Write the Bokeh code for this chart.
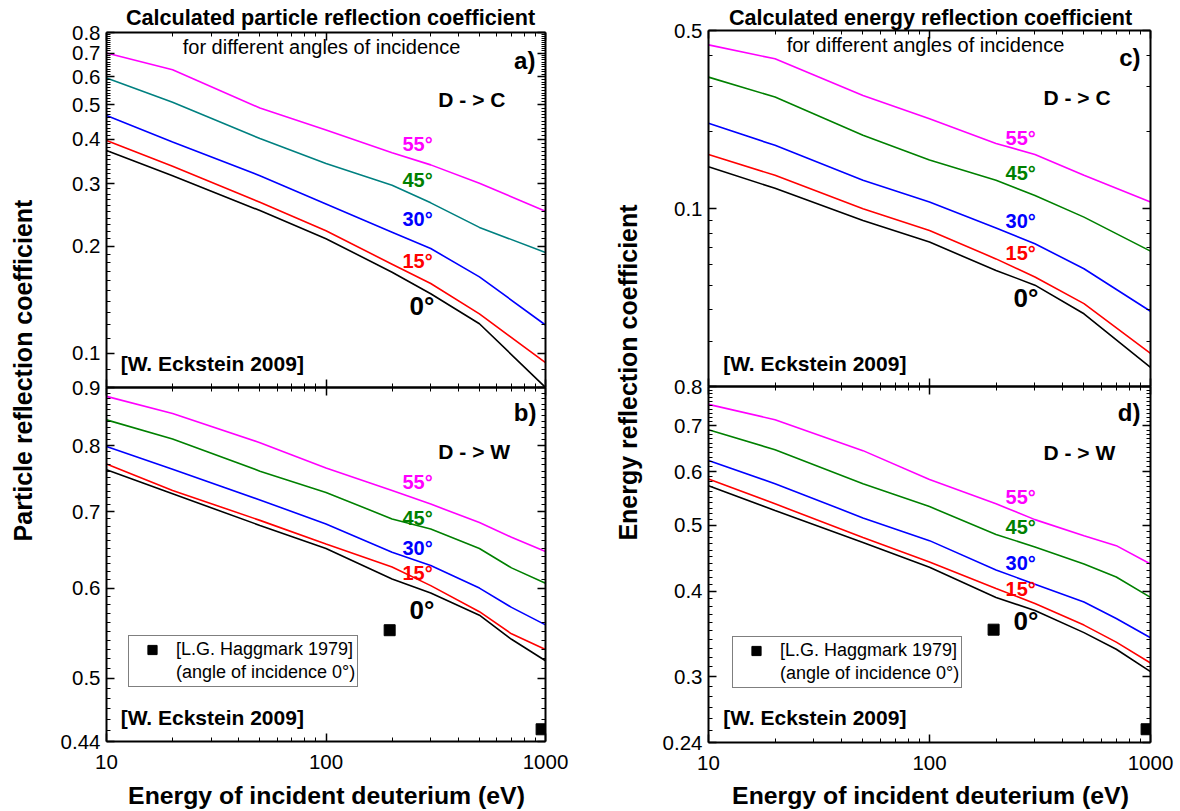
import math
from bokeh.plotting import figure
from bokeh.models import (Range1d, LogAxis, FixedTicker, CustomJSTickFormatter,
                          Label, Legend, LegendItem, GridBox)
from bokeh.embed import file_html
from bokeh.resources import INLINE

# ---------------- data ----------------
energy_c = [10, 20, 50, 100, 200, 300, 500, 1000]          # eV, D -> C
energy_w = [10, 20, 50, 100, 200, 300, 500, 700, 1000]     # eV, D -> W
angle_labels = ["0°", "15°", "30°", "45°", "55°"]

# a) particle reflection coefficient, D -> C
rn_c_0 = [0.372, 0.316, 0.252, 0.210, 0.169, 0.147, 0.121, 0.080]
rn_c_15 = [0.397, 0.336, 0.266, 0.221, 0.178, 0.157, 0.129, 0.094]
rn_c_30 = [0.467, 0.393, 0.316, 0.263, 0.219, 0.197, 0.164, 0.120]
rn_c_45 = [0.596, 0.509, 0.402, 0.342, 0.297, 0.265, 0.226, 0.192]
rn_c_55 = [0.700, 0.628, 0.490, 0.425, 0.367, 0.339, 0.301, 0.251]

# b) particle reflection coefficient, D -> W
rn_w_0 = [0.762, 0.726, 0.681, 0.650, 0.611, 0.594, 0.568, 0.541, 0.518]
rn_w_15 = [0.771, 0.731, 0.688, 0.656, 0.626, 0.603, 0.572, 0.547, 0.530]
rn_w_30 = [0.799, 0.763, 0.717, 0.683, 0.645, 0.628, 0.600, 0.577, 0.557]
rn_w_45 = [0.843, 0.811, 0.760, 0.728, 0.690, 0.676, 0.650, 0.625, 0.606]
rn_w_55 = [0.884, 0.854, 0.805, 0.765, 0.731, 0.711, 0.685, 0.665, 0.646]

# c) energy reflection coefficient, D -> C
re_c_0 = [0.146, 0.120, 0.0897, 0.0738, 0.0571, 0.0500, 0.0386, 0.0238]
re_c_15 = [0.163, 0.135, 0.0998, 0.0820, 0.0634, 0.0538, 0.0423, 0.0270]
re_c_30 = [0.216, 0.177, 0.129, 0.106, 0.0838, 0.0727, 0.0580, 0.0395]
re_c_45 = [0.328, 0.274, 0.194, 0.155, 0.129, 0.1125, 0.0925, 0.0680]
re_c_55 = [0.439, 0.387, 0.278, 0.225, 0.180, 0.163, 0.135, 0.106]

# d) energy reflection coefficient, D -> W
re_w_0 = [0.572, 0.526, 0.472, 0.434, 0.392, 0.375, 0.348, 0.329, 0.305]
re_w_15 = [0.585, 0.538, 0.480, 0.442, 0.404, 0.384, 0.357, 0.337, 0.314]
re_w_30 = [0.623, 0.576, 0.513, 0.475, 0.430, 0.410, 0.386, 0.365, 0.342]
re_w_45 = [0.691, 0.646, 0.576, 0.533, 0.485, 0.465, 0.439, 0.420, 0.392]
re_w_55 = [0.753, 0.715, 0.644, 0.584, 0.538, 0.510, 0.483, 0.467, 0.439]

# measurements [L.G. Haggmark 1979], angle of incidence 0°
energy_haggmark = [195, 960]
rn_haggmark = [0.551, 0.451]
re_haggmark = [0.3515, 0.251]

# tick values
x_major = [10, 100, 1000]
x_minor = [20, 30, 40, 50, 60, 70, 80, 90, 200, 300, 400, 500, 600, 700, 800, 900]
ya_major = [0.1, 0.2, 0.3, 0.4, 0.5, 0.6, 0.7, 0.8]
yb_major = [0.44, 0.5, 0.6, 0.7, 0.8, 0.9]
yc_major = [0.1, 0.5]
yd_major = [0.24, 0.3, 0.4, 0.5, 0.6, 0.7, 0.8]
ya_minor = [round(0.01 * k, 2) for k in range(8, 80) if k % 10 != 0]
yb_minor = [round(0.01 * k, 2) for k in range(45, 90) if k % 10 != 0]
yc_minor = [0.02, 0.03, 0.04, 0.05, 0.06, 0.07, 0.08, 0.09, 0.2, 0.3, 0.4]
yd_minor = [round(0.01 * k, 2) for k in range(25, 80) if k % 10 != 0]

colors_c = ["black", "#FF0000", "#0000FF", "#008080", "#FF00FF"]
colors = ["black", "#FF0000", "#0000FF", "#008000", "#FF00FF"]

# ---------------- helpers ----------------
W, H = 1180, 811
FONT = "Liberation Sans"


def style_axis(ax, ticker, labels, standoff):
    ax.ticker = ticker
    ax.formatter = CustomJSTickFormatter(code="return String(tick);" if labels else "return '';")
    ax.axis_line_width = 2
    ax.axis_line_color = "black"
    ax.major_tick_in = 8
    ax.major_tick_out = 0
    ax.minor_tick_in = 4
    ax.minor_tick_out = 0
    ax.major_tick_line_width = 1.5
    ax.minor_tick_line_width = 1
    ax.major_tick_line_color = "black"
    ax.minor_tick_line_color = "black"
    ax.major_label_text_font = FONT
    ax.major_label_text_font_size = "20.5px" if labels else "1px"
    ax.major_label_text_color = "black"
    ax.major_label_standoff = standoff if labels else 0


def make_panel(y_rng, y_major, y_minor, frame, x_labels):
    l, t, r, b = frame
    p = figure(width=W, height=H, x_axis_type="log", y_axis_type="log",
               x_range=Range1d(10, 1000), y_range=Range1d(*y_rng),
               min_border_left=l, min_border_top=t,
               min_border_right=W - r, min_border_bottom=H - b,
               frame_align=False,
               output_backend="svg", toolbar_location=None)
    p.background_fill_color = None
    p.border_fill_color = None
    p.outline_line_color = None
    p.xgrid.visible = False
    p.ygrid.visible = False
    xt = FixedTicker(ticks=x_major, minor_ticks=x_minor)
    yt = FixedTicker(ticks=y_major, minor_ticks=y_minor)
    above = LogAxis()
    right = LogAxis()
    p.add_layout(above, "above")
    p.add_layout(right, "right")
    style_axis(p.below[0], xt, x_labels, 13)
    style_axis(p.left[0], yt, True, 6)
    style_axis(above, xt, False, 0)
    style_axis(right, yt, False, 0)
    return p


def txt(p, x, y, text, size, color="black", style="bold", align="left", angle=0.0):
    p.add_layout(Label(x=x, y=y, text=text, text_font=FONT, text_font_size=f"{size}px",
                       text_font_style=style, text_color=color, text_align=align,
                       text_baseline="middle", angle=angle))


def add_legend(p, renderer, loc):
    dummy = p.scatter([], [], marker="square", size=1, fill_alpha=0, line_alpha=0)
    leg = Legend(items=[LegendItem(label="[L.G. Haggmark 1979]", renderers=[renderer]),
                        LegendItem(label="(angle of incidence 0°)", renderers=[dummy])],
                 location=loc, padding=2, spacing=0, margin=0,
                 glyph_width=42, glyph_height=23, label_height=23, label_standoff=3,
                 label_text_font=FONT, label_text_font_size="18px", label_text_color="black",
                 border_line_color="black", border_line_width=1,
                 background_fill_color="white", background_fill_alpha=1)
    p.add_layout(leg)


# ---------------- panel a ----------------
pa = make_panel((0.08, 0.8), ya_major, ya_minor, (106, 32, 545, 387), False)
for vals, col in zip([rn_c_0, rn_c_15, rn_c_30, rn_c_45, rn_c_55], colors_c):
    pa.line(energy_c, vals, line_color=col, line_width=1.6)
txt(pa, 95.4, 0.730, "for different angles of incidence", 20, style="normal", align="center")
txt(pa, 900, 0.667, "a)", 24, align="right")
txt(pa, 325, 0.518, "D - > C", 21)
txt(pa, 223, 0.389, angle_labels[4], 20, colors[4])
txt(pa, 223, 0.307, angle_labels[3], 20, colors[3])
txt(pa, 223, 0.239, angle_labels[2], 20, colors[2])
txt(pa, 223, 0.182, angle_labels[1], 20, colors[1])
txt(pa, 240, 0.136, angle_labels[0], 26, colors[0])
txt(pa, 11.6, 0.0934, "[W. Eckstein 2009]", 21)

# ---------------- panel b ----------------
pb = make_panel((0.44, 0.9), yb_major, yb_minor, (106, 387, 545, 741), True)
for vals, col in zip([rn_w_0, rn_w_15, rn_w_30, rn_w_45, rn_w_55], colors):
    pb.line(energy_w, vals, line_color=col, line_width=1.6)
hb = pb.scatter(energy_haggmark, rn_haggmark, marker="square", size=11, color="black")
add_legend(pb, hb, (22, 54))
txt(pb, 910, 0.856, "b)", 24, align="right")
txt(pb, 325, 0.791, "D - > W", 21)
txt(pb, 223, 0.743, angle_labels[4], 20, colors[4])
txt(pb, 223, 0.692, angle_labels[3], 20, colors[3])
txt(pb, 223, 0.650, angle_labels[2], 20, colors[2])
txt(pb, 223, 0.618, angle_labels[1], 20, colors[1])
txt(pb, 240, 0.5735, angle_labels[0], 26, colors[0])
txt(pb, 11.6, 0.462, "[W. Eckstein 2009]", 21)

# ---------------- panel c ----------------
pc = make_panel((0.02, 0.5), yc_major, yc_minor, (708, 30, 1150, 386), False)
for vals, col in zip([re_c_0, re_c_15, re_c_30, re_c_45, re_c_55], colors):
    pc.line(energy_c, vals, line_color=col, line_width=1.6)
txt(pc, 95.9, 0.4405, "for different angles of incidence", 20, style="normal", align="center")
txt(pc, 901, 0.392, "c)", 24, align="right")
txt(pc, 328, 0.273, "D - > C", 21)
txt(pc, 221, 0.190, angle_labels[4], 20, colors[4])
txt(pc, 221, 0.138, angle_labels[3], 20, colors[3])
txt(pc, 221, 0.0896, angle_labels[2], 20, colors[2])
txt(pc, 221, 0.0666, angle_labels[1], 20, colors[1])
txt(pc, 240, 0.0447, angle_labels[0], 26, colors[0])
txt(pc, 11.65, 0.0247, "[W. Eckstein 2009]", 21)

# ---------------- panel d ----------------
pd_ = make_panel((0.24, 0.8), yd_major, yd_minor, (708, 386, 1150, 742), True)
for vals, col in zip([re_w_0, re_w_15, re_w_30, re_w_45, re_w_55], colors):
    pd_.line(energy_w, vals, line_color=col, line_width=1.6)
hd = pd_.scatter(energy_haggmark, re_haggmark, marker="square", size=11, color="black")
add_legend(pd_, hd, (24, 54))
txt(pd_, 901, 0.733, "d)", 24, align="right")
txt(pd_, 328, 0.640, "D - > W", 21)
txt(pd_, 221, 0.550, angle_labels[4], 20, colors[4])
txt(pd_, 221, 0.497, angle_labels[3], 20, colors[3])
txt(pd_, 221, 0.441, angle_labels[2], 20, colors[2])
txt(pd_, 221, 0.404, angle_labels[1], 20, colors[1])
txt(pd_, 240, 0.3625, angle_labels[0], 26, colors[0])
txt(pd_, 11.65, 0.261, "[W. Eckstein 2009]", 21)

# ---------------- page-level titles and axis titles (pixel overlay) ----------------
ov = figure(width=W, height=H, x_range=Range1d(0, W), y_range=Range1d(H, 0),
            min_border=0, frame_align=False, x_axis_location=None, y_axis_location=None,
            output_backend="svg", toolbar_location=None)
ov.background_fill_color = None
ov.border_fill_color = None
ov.outline_line_color = None
ov.xgrid.visible = False
ov.ygrid.visible = False
txt(ov, 330, 17, "Calculated particle reflection coefficient", 21.6, align="center")
txt(ov, 930, 17, "Calculated energy reflection coefficient", 21.6, align="center")
txt(ov, 22, 370, "Particle reflection coefficient", 25, align="center", angle=math.pi / 2)
txt(ov, 627, 372, "Energy reflection coefficient", 25, align="center", angle=math.pi / 2)
txt(ov, 326, 795, "Energy of incident deuterium (eV)", 24.8, align="center")
txt(ov, 930, 795, "Energy of incident deuterium (eV)", 24.8, align="center")

grid = GridBox(children=[(pa, 0, 0), (pb, 0, 0), (pc, 0, 0), (pd_, 0, 0), (ov, 0, 0)])

open("out.html", "w").write(file_html(grid, INLINE))
